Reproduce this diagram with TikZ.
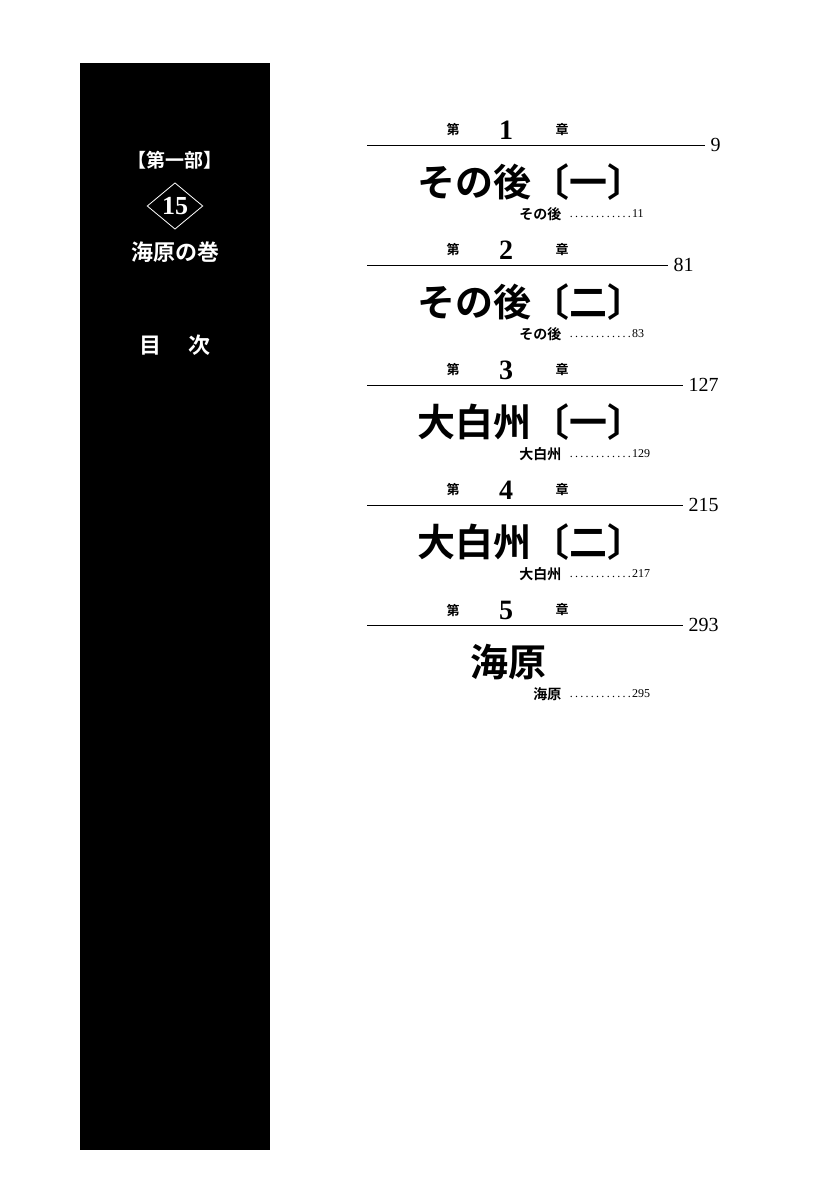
\documentclass[tikz,border=0pt]{standalone}
\usepackage{fontspec}
\setmainfont{Liberation Serif}
\newfontfamily\cjk{Noto Sans CJK JP}[BoldFont={* Bold}]
\usetikzlibrary{shapes.geometric}
\tikzset{
  chlabel/.style={font=\cjk\bfseries\fontsize{13}{13}\selectfont},
  chnum/.style={font=\bfseries\fontsize{28}{28}\selectfont},
  titlebig/.style={font=\cjk\bfseries\fontsize{38}{38}\selectfont, anchor=west},
  subentry/.style={font=\cjk\bfseries\fontsize{14}{14}\selectfont, anchor=east},
  pagenum/.style={font=\fontsize{20}{20}\selectfont, anchor=west},
  sidetext/.style={font=\cjk\bfseries\fontsize{22}{22}\selectfont, white}
}
\begin{document}
\begin{tikzpicture}[x=1pt,y=-1pt]
  \useasboundingbox[fill=white] (0,0) rectangle (829,1200);
  % black side panel
  \fill[black] (80,63) rectangle (270,1150);
  \node[sidetext, font=\cjk\bfseries\fontsize{19}{19}\selectfont] (part) at (175,160) {【第一部】};
  \node[diamond, draw=white, thick, inner sep=2pt, aspect=1.2, white,
        font=\bfseries\fontsize{26}{26}\selectfont] (vol) at (175,206) {15};
  \node[sidetext] (voltitle) at (175,252) {海原の巻};
  \node[sidetext] (toc) at (175,345) {目\hspace{1.2em}次};
  % chapters
  \foreach \k/\ttl/\sub/\pg/\spg/\xe in {
      1/その後〔一〕/その後/9/11/705,
      2/その後〔二〕/その後/81/83/668,
      3/大白州〔一〕/大白州/127/129/683,
      4/大白州〔二〕/大白州/215/217/683,
      5/\hspace{1.4em}海原/海原\ /293/295/683} {
    \pgfmathsetmacro{\yy}{130+120*(\k-1)}
    \node[chlabel] (dai\k) at (453,\yy) {第};
    \node[chnum] (num\k) at (506,\yy) {\k};
    \node[chlabel] (sho\k) at (562,\yy) {章};
    \coordinate (ls\k) at (367,\yy+15);
    \coordinate (le\k) at (\xe,\yy+15);
    \draw[line width=0.8pt] (ls\k) -- (le\k);
    \node[pagenum] (pg\k) at (\xe+2,\yy+15) {\pg};
    \node[titlebig] (ttl\k) at (414,\yy+52) {\ttl};
    \node[subentry] (sub\k) at (565,\yy+84) {\sub};
    \node[anchor=west, font=\fontsize{12}{12}\selectfont] (spg\k) at (sub\k.east) {\makebox[5.3em]{\dotfill}\spg};
  }
\end{tikzpicture}
\end{document}
